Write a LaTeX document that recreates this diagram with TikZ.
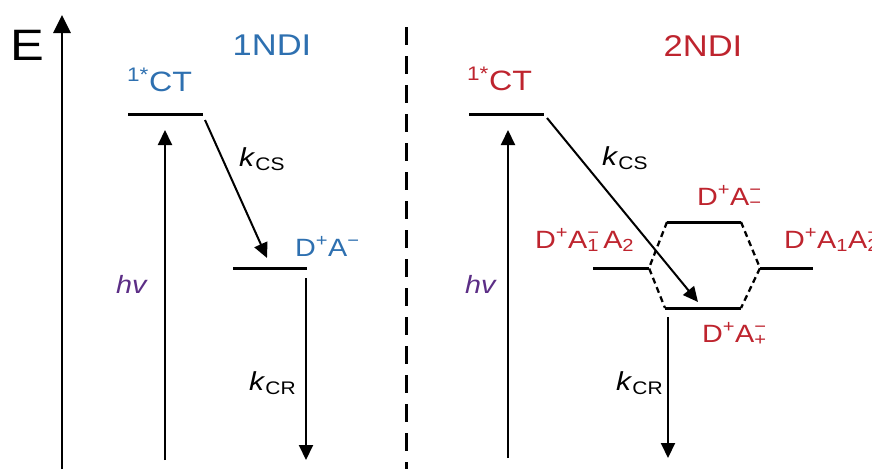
\documentclass[tikz,border=0pt]{standalone}
\usepackage{fontspec}
\setmainfont[FakeStretch=1.15]{Liberation Sans}
\usetikzlibrary{arrows.meta}
\definecolor{ndiblue}{RGB}{46,112,176}
\definecolor{ndired}{RGB}{190,36,46}
\definecolor{hvpurple}{RGB}{92,46,134}
\newcommand\mns{\char"2212\relax}
\newcommand\supsub[2]{\makebox[0pt][l]{\textsuperscript{#1}}\textsubscript{#2}}
\tikzset{
  lbl/.style={inner sep=0pt, anchor=base west},
  level/.style={line width=3pt},
  trans/.style={line width=2pt, -{Triangle[length=15pt,width=14pt]}},
  mix/.style={line width=2.3pt, dash pattern=on 6pt off 4pt},
  rate/.style={lbl, font=\fontsize{26}{28}\selectfont},
  state/.style={lbl, font=\fontsize{25}{27}\selectfont},
}
\begin{document}
\begin{tikzpicture}[x=1pt,y=-1pt]
\useasboundingbox (0,0) rectangle (872,469);

% energy axis
\coordinate (ax0) at (62,469);
\coordinate (ax1) at (62,15);
\draw[line width=2.7pt, -{Triangle[length=18pt,width=17pt]}] (ax0) -- (ax1);
\node[lbl, font=\fontsize{44}{46}\selectfont] (E) at (10,60) {E};

% separator
\coordinate (sep0) at (406,27);
\coordinate (sep1) at (406,469);
\draw[line width=3pt, dash pattern=on 18pt off 11pt] (sep0) -- (sep1);

% ---------- 1NDI ----------
\node[inner sep=0pt, anchor=base, text=ndiblue, font=\fontsize{30}{32}\selectfont] (t1) at (272,55) {1NDI};
\node[lbl, text=ndiblue, font=\fontsize{28}{30}\selectfont] (ct1l) at (127,91) {\textsuperscript{1*}CT};

\coordinate (ct1a) at (128,114);
\coordinate (ct1b) at (203,114);
\draw[level] (ct1a) -- (ct1b);

\coordinate (da1a) at (233,268);
\coordinate (da1b) at (307,268);
\draw[level] (da1a) -- (da1b);
\node[state, text=ndiblue] (da1l) at (295,256) {D\textsuperscript{+}A\textsuperscript{\mns}};

% excitation
\coordinate (hv1a) at (165,460);
\coordinate (hv1b) at (165,130);
\draw[trans] (hv1a) -- (hv1b);
\node[state, text=hvpurple] (hv1) at (116,293) {\textit{hv}};

% charge separation
\coordinate (cs1a) at (205,120);
\coordinate (cs1b) at (267,258);
\draw[trans] (cs1a) -- (cs1b);
\node[rate] (kcs1) at (239,166) {\textit{k}\textsubscript{CS}};

% charge recombination
\coordinate (cr1a) at (306,278);
\coordinate (cr1b) at (306,460);
\draw[trans] (cr1a) -- (cr1b);
\node[rate] (kcr1) at (249,390) {\textit{k}\textsubscript{CR}};

% ---------- 2NDI ----------
\node[inner sep=0pt, anchor=base, text=ndired, font=\fontsize{30}{32}\selectfont] (t2) at (703,56) {2NDI};
\node[lbl, text=ndired, font=\fontsize{28}{30}\selectfont] (ct2l) at (467,90) {\textsuperscript{1*}CT};

\coordinate (ct2a) at (469,114);
\coordinate (ct2b) at (544,114);
\draw[level] (ct2a) -- (ct2b);

% localized and delocalized charge-separated states
\coordinate (loca) at (593,268);
\coordinate (locb) at (649,268);
\coordinate (locc) at (760,268);
\coordinate (locd) at (813,268);
\coordinate (upa) at (667,222);
\coordinate (upb) at (741,222);
\coordinate (lowa) at (665,308);
\coordinate (lowb) at (741,308);
\draw[level] (loca) -- (locb);
\draw[level] (locc) -- (locd);
\draw[level] (upa) -- (upb);
\draw[level] (lowa) -- (lowb);
\draw[mix] (upa) -- (locb) -- (lowa);
\draw[mix] (upb) -- (locc) -- (lowb);

\node[state, text=ndired] (dup) at (697,205) {D\textsuperscript{+}A\supsub{\mns}{\mns}};
\node[state, text=ndired] (dl) at (535,248) {D\textsuperscript{+}A\supsub{\mns}{1}\,A\textsubscript{2}};
\node[state, text=ndired] (dr) at (784,248) {D\textsuperscript{+}A\textsubscript{1}A\supsub{\mns}{2}};
\node[state, text=ndired] (dlow) at (702,342) {D\textsuperscript{+}A\supsub{\mns}{+}};

\coordinate (hv2a) at (508,458);
\coordinate (hv2b) at (508,130);
\draw[trans] (hv2a) -- (hv2b);
\node[state, text=hvpurple] (hv2) at (465,293) {\textit{hv}};

\coordinate (cs2a) at (547,118);
\coordinate (cs2b) at (698,302);
\draw[trans] (cs2a) -- (cs2b);
\node[rate] (kcs2) at (602,165) {\textit{k}\textsubscript{CS}};

\coordinate (cr2a) at (668,317);
\coordinate (cr2b) at (668,458);
\draw[trans] (cr2a) -- (cr2b);
\node[rate] (kcr2) at (616,390) {\textit{k}\textsubscript{CR}};
\end{tikzpicture}
\end{document}
